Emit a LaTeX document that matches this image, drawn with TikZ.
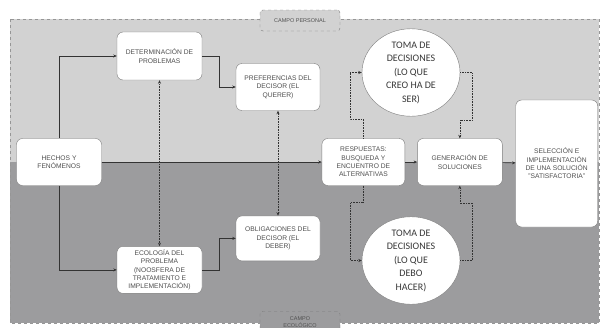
\documentclass[tikz,border=0pt]{standalone}
\usepackage{fontspec}
\setmainfont{Liberation Sans}
\newfontfamily\tomafont{Carlito}
\usetikzlibrary{positioning,shapes.geometric,arrows.meta}
\definecolor{campoalto}{HTML}{D2D2D2}
\definecolor{campobajo}{HTML}{9C9C9E}
\definecolor{bordegris}{HTML}{7C7C7C}
\definecolor{textogris}{HTML}{505050}
\definecolor{lineagris}{HTML}{333333}
\tikzset{main node/.style={draw=bordegris, fill=white, rounded corners=6pt, align=center, text=textogris, inner sep=2pt, minimum width=85pt, minimum height=47pt, font=\fontsize{6.7}{8.4}\selectfont},
  toma node/.style={ellipse, draw=bordegris, fill=white, align=center, inner sep=0pt, minimum width=98pt, minimum height=71pt, text=textogris!70!black, font=\tomafont\fontsize{10}{13.5}\selectfont},
  campo node/.style={draw=bordegris, dashed, rounded corners=3pt, align=center, text=textogris, inner sep=2pt, minimum width=80pt, minimum height=21pt, font=\fontsize{5.5}{7.5}\selectfont},
  flow/.style={->, draw=lineagris, line width=0.6pt},
  link/.style={draw=lineagris, line width=0.6pt, densely dotted},
}

\begin{document}
\begin{tikzpicture}[x=1pt, y=-1pt, >={Stealth[length=3.5pt,width=3pt]}]
        \useasboundingbox (0,0) rectangle (600,327);
        % Campos
        \fill[campoalto] (10,19) rectangle (599,162);
        \fill[campobajo] (10,162) rectangle (599,323);
        \draw[bordegris!80, dashed, line width=0.5pt] (10,19) rectangle (599,323);
        \node[campo node, fill=campoalto] (personal) at (300,20.5) {CAMPO PERSONAL};
        \node[campo node, fill=campobajo, anchor=north, minimum height=22pt] (ecologico) at (300,311) {CAMPO\\ECOLÓGICO};
        % Nodes
        \node[main node] (hechos) at (59,162) {HECHOS Y\\FENÓMENOS};
        \node[main node, minimum height=48pt] (det) at (159.5,56) {DETERMINACIÓN DE\\PROBLEMAS};
        \node[main node, minimum width=84pt] (pref) at (278,87) {PREFERENCIAS DEL\\DECISOR (EL\\QUERER)};
        \node[main node] (ecol) [below = 166pt of det] {ECOLOGÍA DEL\\PROBLEMA\\(NOOSFERA DE\\TRATAMIENTO E\\IMPLEMENTACIÓN)};
        \node[main node, minimum width=84pt, minimum height=45pt] (oblig) [below = 105pt of pref] {OBLIGACIONES DEL\\DECISOR (EL\\DEBER)};
        \node[main node, minimum width=83pt] (resp) [right = 220pt of hechos] {RESPUESTAS:\\BUSQUEDA Y\\ENCUENTRO DE\\ALTERNATIVAS};
        \node[main node] (gen) [right = 12pt of resp] {GENERACIÓN DE\\SOLUCIONES};
        \node[main node, minimum width=82pt, minimum height=127pt, yshift=-1.5pt] (sel) [right = 13pt of gen] {SELECCIÓN E\\IMPLEMENTACIÓN\\DE UNA SOLUCIÓN\\"SATISFACTORIA"};
        \node[toma node] (tomaA) at (411,72.5) {TOMA DE\\DECISIONES\\(LO QUE\\CREO HA DE\\SER)};
        \node[toma node, minimum height=75pt] (tomaB) at (411,260.5) {TOMA DE\\DECISIONES\\(LO QUE\\DEBO\\HACER)};
        % Paths
        \draw[flow] (hechos.north) |- (det.west);
        \draw[flow] (hechos.south) |- (ecol.west);
        \draw[flow] (hechos.east) -- (resp.west);
        \draw[flow] (det.east) -- ++(17,0) |- (pref.west);
        \draw[flow] (ecol.east) -- ++(17,0) |- (oblig.west);
        \draw[flow] (resp) -- (gen);
        \draw[flow] (gen) -- (sel);
        \draw[link, <->] (det) -- (ecol);
        \draw[link, <->] (pref) -- (oblig);
        \draw[link, ->] (resp.north) -- ++(0,-19) -- ++(-13,0) |- (tomaA.west);
        \draw[link, ->] (tomaA.east) -- ++(12,0) -- ++(0,47.5) -| (gen.north);
        \draw[link, ->] (resp.south) -- ++(0,17) -- ++(-13,0) |- (tomaB.west);
        \draw[link, ->] (tomaB.east) -- ++(12,0) -- ++(0,-57.5) -| (gen.south);
    \end{tikzpicture}
\end{document}
